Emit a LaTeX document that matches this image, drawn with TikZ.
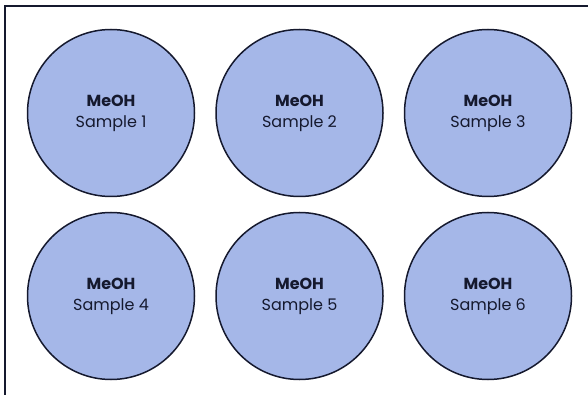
\documentclass[tikz,border=0pt]{standalone}
\usepackage{fontspec}
\setmainfont{Poppins}
\definecolor{wellfill}{HTML}{A5B7E8}
\definecolor{inkdark}{HTML}{15192E}

\begin{document}
\begin{tikzpicture}[x=1pt,y=-1pt]
\tikzset{
  well/.style={circle,draw=inkdark,line width=1.5pt,fill=wellfill,minimum size=167pt,inner sep=0pt,align=center,text=inkdark,font=\fontsize{16}{21}\selectfont},
  plate/.style={draw=inkdark,line width=1.8pt}
}
\useasboundingbox (0,0) rectangle (588,395);
\begin{scope}
\clip (0,0) rectangle (588,395);
\draw[plate] (5,6) rectangle (620,430);
\end{scope}
\node[well] (w_1) at (111.00,113.00) {\textbf{MeOH}\\Sample 1};
\node[well] (w_2) at (299.50,113.00) {\textbf{MeOH}\\Sample 2};
\node[well] (w_3) at (488.00,113.00) {\textbf{MeOH}\\Sample 3};
\node[well] (w_4) at (111.00,296.00) {\textbf{MeOH}\\Sample 4};
\node[well] (w_5) at (299.50,296.00) {\textbf{MeOH}\\Sample 5};
\node[well] (w_6) at (488.00,296.00) {\textbf{MeOH}\\Sample 6};
\end{tikzpicture}
\end{document}
